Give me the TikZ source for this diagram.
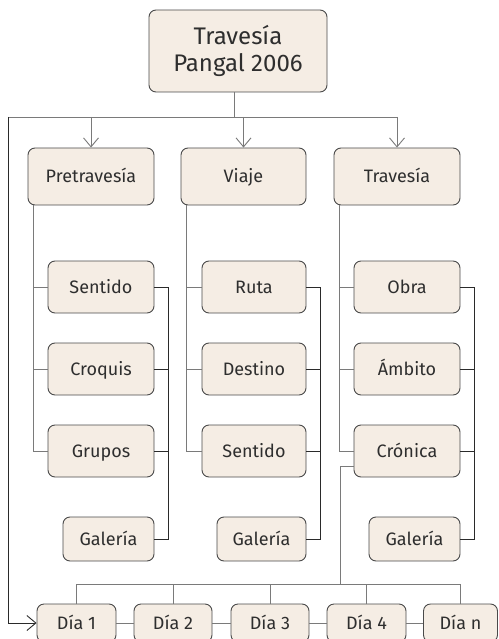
\documentclass[tikz,border=0pt]{standalone}
\usepackage{fontspec}
\setmainfont{Fira Sans}
\usetikzlibrary{arrows.meta,calc}
\definecolor{boxfill}{HTML}{F5EDE4}
\definecolor{boxline}{HTML}{4A4A4A}
\definecolor{lgray}{HTML}{7A7A7A}
\definecolor{ldark}{HTML}{2A2A2A}
\definecolor{txt}{HTML}{2E2E2E}
\begin{document}
\begin{tikzpicture}[x=1pt,y=-1pt,
 boxbase/.style={draw=boxline,fill=boxfill,rounded corners=7pt,line width=0.9pt,text=txt,inner sep=0pt},
 box/.style={boxbase,font=\fontsize{18}{21}\selectfont,text height=12.5pt,text depth=0pt},
 gl/.style={draw=lgray,line width=0.9pt},
 dl/.style={draw=ldark,line width=0.9pt},
 arr/.style={-{Straight Barb[length=9pt,width=15pt]}}]
\useasboundingbox (0,0) rectangle (498,639);
% nodes
\node[boxbase,minimum width=178pt,minimum height=82pt,align=center,font=\fontsize{24}{27}\selectfont] (top) at (238,51) {Travesía\\Pangal 2006};
\node[box,minimum width=126pt,minimum height=57pt] (pre) at (91,176.5) {Pretravesía};
\node[box,minimum width=125pt,minimum height=57pt] (via) at (243.5,176.5) {Viaje};
\node[box,minimum width=126pt,minimum height=57pt] (tra) at (397,176.5) {Travesía};
% column 1
\node[box,minimum width=106pt,minimum height=52pt] (sen1) at (101,287) {Sentido};
\node[box,minimum width=106pt,minimum height=52pt] (cro1) at (101,369) {Croquis};
\node[box,minimum width=106pt,minimum height=52pt] (gru1) at (101,451) {Grupos};
\node[box,minimum width=91pt,minimum height=44pt] (gal1) at (108.5,539) {Galería};
% column 2
\node[box,minimum width=104pt,minimum height=52pt] (rut2) at (254,287) {Ruta};
\node[box,minimum width=104pt,minimum height=52pt] (des2) at (254,369) {Destino};
\node[box,minimum width=104pt,minimum height=52pt] (sen2) at (254,451) {Sentido};
\node[box,minimum width=89pt,minimum height=44pt] (gal2) at (261.5,539) {Galería};
% column 3
\node[box,minimum width=106pt,minimum height=52pt] (obr3) at (407,287) {Obra};
\node[box,minimum width=106pt,minimum height=52pt] (amb3) at (407,369) {Ámbito};
\node[box,minimum width=106pt,minimum height=52pt] (cro3) at (407,451) {Crónica};
\node[box,minimum width=91pt,minimum height=44pt] (gal3) at (414.5,539) {Galería};
% days
\node[box,minimum width=79pt,minimum height=38pt] (d1) at (76.5,623) {Día 1};
\node[box,minimum width=78pt,minimum height=38pt] (d2) at (173,623) {Día 2};
\node[box,minimum width=78pt,minimum height=38pt] (d3) at (270,623) {Día 3};
\node[box,minimum width=79pt,minimum height=38pt] (d4) at (366.5,623) {Día 4};
\node[box,minimum width=74pt,minimum height=38pt] (dn) at (460.5,623) {Día n};
% top connectors
\coordinate (tb) at (234,117);
\coordinate (lb) at (8,117);
\draw[gl] (top.south -| tb) -- (tb);
\draw[gl] (lb) -- (tra.north |- tb);
\draw[gl,arr] (pre.north |- tb) -- (pre.north);
\draw[gl,arr] (via.north |- tb) -- (via.north);
\draw[gl,arr] (tra.north |- tb) -- (tra.north);
\draw[dl,arr] (lb) |- (d1.west);
% column stems
\foreach \p/\a/\b/\c/\g in {pre/sen1/cro1/gru1/gal1, via/rut2/des2/sen2/gal2, tra/obr3/amb3/cro3/gal3}{
  \coordinate (s) at ($(\p.south west)+(6,0)$);
  \draw[gl] (s) |- (\c.west);
  \draw[gl] (\a.west) -- (\a.west -| s);
  \draw[gl] (\b.west) -- (\b.west -| s);
  \coordinate (r) at ($(\a.east)+(14,0)$);
  \draw[dl] (\a.east) -- (r) |- (\g.east);
  \draw[dl] (\b.east) -- (\b.east -| r);
  \draw[dl] (\c.east) -- (\c.east -| r);
}
% cronica to days
\coordinate (busR) at (340,584);
\draw[gl] ($(cro3.west)+(0,15)$) -| (busR);
\draw[gl] (d1.north |- busR) -- (dn.north |- busR);
\foreach \d in {d1,d2,d3,d4,dn}{\draw[gl] (\d.north) -- (\d.north |- busR);}
\draw[gl] (d1.east) -- (d2.west);
\draw[gl] (d2.east) -- (d3.west);
\draw[gl] (d3.east) -- (d4.west);
\draw[gl] (d4.east) -- (dn.west);
\end{tikzpicture}
\end{document}
